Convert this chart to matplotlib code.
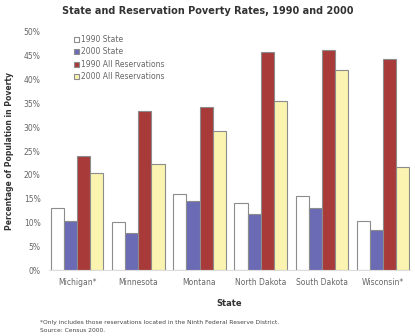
import matplotlib
matplotlib.use("Agg")
import matplotlib.pyplot as plt
import numpy as np

states = ["Michigan*", "Minnesota", "Montana", "North Dakota", "South Dakota", "Wisconsin*"]
state_1990 = [13.1, 10.0, 15.9, 14.1, 15.6, 10.4]
state_2000 = [10.4, 7.8, 14.5, 11.7, 13.0, 8.4]
res_1990 = [24.0, 33.3, 34.2, 45.7, 46.2, 44.3]
res_2000 = [20.3, 22.2, 29.3, 35.4, 42.0, 21.7]
series_names = ["1990 State", "2000 State", "1990 All Reservations", "2000 All Reservations"]
colors = ["#ffffff", "#6b6bb5", "#a93a3a", "#fbf4b0"]

fig = plt.figure(figsize=(4.15, 3.36), dpi=100)
ax = fig.add_axes([0.118, 0.196, 0.87, 0.709])

x = np.arange(len(states))
w = 0.215
for k, vals in enumerate([state_1990, state_2000, res_1990, res_2000]):
    ax.bar(x + (k - 1.5) * w, vals, w, color=colors[k], edgecolor="#8c8c8c",
           linewidth=0.8, label=series_names[k], zorder=2)

ax.set_ylim(0, 50)
ax.set_xlim(-0.46, 5.44)
ax.set_yticks(np.arange(0, 51, 5))
ax.set_yticklabels([f"{v}%" for v in range(0, 51, 5)])
ax.set_xticks(x)
ax.set_xticklabels(states)
ax.tick_params(axis="both", length=0, labelsize=5.5, colors="#666666", pad=6)
for s in ["top", "right", "left"]:
    ax.spines[s].set_visible(False)
ax.spines["bottom"].set_color("#dddddd")

ax.set_xlabel("State", fontsize=6, fontweight="bold", color="#333333", labelpad=8)
ax.set_ylabel("Percentage of Population in Poverty", fontsize=5.5, fontweight="bold",
              color="#333333", labelpad=7)

leg = ax.legend(loc="upper left", bbox_to_anchor=(0.06, 1.0), frameon=False,
                fontsize=5.5, handlelength=0.7, handleheight=0.7, handletextpad=0.3,
                labelspacing=0.45, borderaxespad=0)
for t in leg.get_texts():
    t.set_color("#666666")

fig.text(0.5, 0.968, "State and Reservation Poverty Rates, 1990 and 2000",
         ha="center", va="center", fontsize=7, fontweight="bold", color="#333333")
fig.text(0.097, 0.008, "*Only includes those reservations located in the Ninth Federal Reserve District.\n"
         "Source: Census 2000.", ha="left", va="bottom", fontsize=4.3, color="#444444",
         linespacing=1.8)

fig.savefig("out.png", dpi=100)
